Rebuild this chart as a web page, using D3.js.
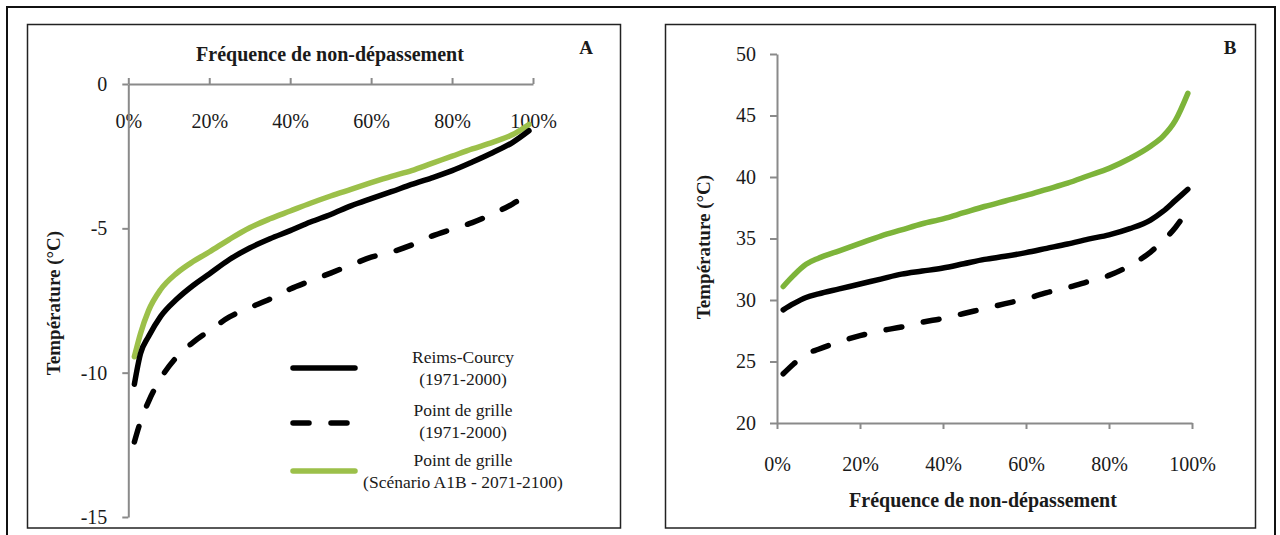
<!DOCTYPE html>
<html><head><meta charset="utf-8">
<script src="https://cdn.jsdelivr.net/npm/d3@7/dist/d3.min.js"></script>
<style>
html,body{margin:0;padding:0;background:#fff;}
svg{display:block;}
text{font-family:"Liberation Serif","Times New Roman",serif;fill:#1a1a1a;}
</style></head>
<body>
<svg id="chart" width="1280" height="535"></svg>
<script>
// ---- Data ----
const xTickLabels = ["0%","20%","40%","60%","80%","100%"];
const xTicks = [0,0.2,0.4,0.6,0.8,1];
const yTicksA = [0,-5,-10,-15];
const yTicksB = [20,25,30,35,40,45,50];
const axisTitleX = "Fréquence de non-dépassement";
const axisTitleY = "Température (°C)";
const seriesNames = ["Reims-Courcy|(1971-2000)","Point de grille|(1971-2000)","Point de grille|(Scénario A1B - 2071-2100)"];

// Panel A: minimum temperatures
const pctA   = [1.5,3,5,8,12,16,20,25,30,35,40,45,50,55,60,65,70,75,80,85,90,95,99];
const reimsA = [-10.4,-9.35,-8.75,-8.05,-7.45,-6.98,-6.58,-6.08,-5.68,-5.36,-5.08,-4.78,-4.52,-4.22,-3.97,-3.73,-3.48,-3.25,-3.0,-2.7,-2.38,-2.02,-1.62];
const gridA  = [-12.4,-11.7,-11.0,-10.2,-9.45,-8.95,-8.55,-8.07,-7.75,-7.45,-7.1,-6.82,-6.55,-6.27,-6.0,-5.82,-5.58,-5.27,-5.03,-4.8,-4.5,-4.15,-3.8];
const a1bA   = [-9.45,-8.65,-7.85,-7.12,-6.55,-6.15,-5.82,-5.38,-4.98,-4.67,-4.4,-4.13,-3.88,-3.65,-3.42,-3.2,-3.0,-2.75,-2.5,-2.25,-2.02,-1.75,-1.4];

// Panel B: maximum temperatures
const pctB   = [1.5,4,7,10,15,20,25,30,35,40,45,50,55,60,65,70,75,80,85,90,93,96,99];
const reimsB = [29.2,29.7,30.2,30.5,30.9,31.3,31.7,32.1,32.35,32.6,32.95,33.3,33.55,33.85,34.2,34.55,34.95,35.3,35.8,36.5,37.2,38.1,39.0];
const gridB  = [24.0,24.8,25.6,26.0,26.6,27.1,27.5,27.8,28.2,28.5,28.9,29.3,29.7,30.1,30.6,31.0,31.5,32.0,32.8,33.9,34.8,35.9,37.3];
const a1bB   = [31.1,32.0,32.9,33.4,34.0,34.6,35.2,35.7,36.2,36.6,37.1,37.6,38.05,38.5,39.0,39.5,40.1,40.7,41.5,42.5,43.3,44.6,46.8];

// ---- Drawing ----
const svg = d3.select("#chart");
const AXIS = "#8a8a8a";
const GREEN_A = "#9cc04a", GREEN_B = "#7db43a";
const FS = "20px";

// outer frame
svg.append("rect").attr("x",7).attr("y",7).attr("width",1268).attr("height",540)
  .attr("fill","none").attr("stroke","#111").attr("stroke-width",2);
// panel frames
svg.append("rect").attr("x",27.5).attr("y",24.5).attr("width",593).attr("height",503.5)
  .attr("fill","none").attr("stroke","#222").attr("stroke-width",1.5);
svg.append("rect").attr("x",665.5).attr("y",24.5).attr("width",590).attr("height",503.5)
  .attr("fill","none").attr("stroke","#222").attr("stroke-width",1.5);

function styleAxis(g){
  g.select(".domain").attr("stroke",AXIS).attr("stroke-width",2);
  g.selectAll(".tick line").attr("stroke",AXIS).attr("stroke-width",2);
  g.selectAll(".tick text").attr("fill","#1a1a1a").style("font-family","'Liberation Serif',serif").style("font-size",FS);
}
function mkLine(x,y){ return d3.line().x(d=>x(d[0]/100)).y(d=>y(d[1])).curve(d3.curveMonotoneX); }
function zip(a,b){ return a.map((v,i)=>[v,b[i]]); }

// ===== Panel A =====
const xA = d3.scaleLinear().domain([0,1]).range([128.3,533]);
const yA = d3.scaleLinear().domain([-15,0]).range([517,84]);
const gA = svg.append("g");
const xAxA = gA.append("g").attr("transform",`translate(0,${yA(0)})`)
  .call(d3.axisTop(xA).tickValues(xTicks).tickFormat((d,i)=>xTickLabels[i]).tickSize(6).tickSizeOuter(0));
styleAxis(xAxA);
xAxA.selectAll(".tick text").attr("y",38).attr("dy","0.32em");
const yAxA = gA.append("g").attr("transform",`translate(${xA(0)},0)`)
  .call(d3.axisLeft(yA).tickValues(yTicksA).tickFormat(d=>String(d)).tickSize(6).tickPadding(15).tickSizeOuter(0));
styleAxis(yAxA);

const lineA = mkLine(xA,yA);
gA.append("path").datum(zip(pctA,a1bA)).attr("d",lineA).attr("fill","none")
  .attr("stroke",GREEN_A).attr("stroke-width",5.5).attr("stroke-linecap","round");
gA.append("path").datum(zip(pctA,gridA)).attr("d",lineA).attr("fill","none")
  .attr("stroke","#000").attr("stroke-width",5.5).attr("stroke-linecap","round").attr("stroke-dasharray","16,22");
gA.append("path").datum(zip(pctA,reimsA)).attr("d",lineA).attr("fill","none")
  .attr("stroke","#000").attr("stroke-width",5.5).attr("stroke-linecap","round");

gA.append("text").attr("x",330).attr("y",54).attr("text-anchor","middle").attr("dominant-baseline","central")
  .style("font-weight","bold").style("font-size",FS).text(axisTitleX);
gA.append("text").attr("x",586).attr("y",47).attr("text-anchor","middle").attr("dominant-baseline","central")
  .style("font-weight","bold").style("font-size","19px").text("A");
gA.append("text").attr("transform","translate(53,303) rotate(-90)").attr("text-anchor","middle").attr("dominant-baseline","central")
  .style("font-weight","bold").style("font-size","19px").text(axisTitleY);

// legend
const legY = [368,423,471];
const legStyles = [{c:"#000",d:null},{c:"#000",d:"16,22"},{c:GREEN_A,d:null}];
const legText = [[357,379],[410,432],[460,482]];
const legLine = d3.line();
seriesNames.forEach((s,i)=>{
  const p = gA.append("path").datum([[293,legY[i]],[355,legY[i]]]).attr("d",legLine)
    .attr("stroke",legStyles[i].c).attr("stroke-width",5.5).attr("stroke-linecap","round").attr("fill","none");
  if(legStyles[i].d) p.attr("stroke-dasharray",legStyles[i].d);
  s.split("|").forEach((t,j)=>{
    gA.append("text").attr("x",463).attr("y",legText[i][j]).attr("text-anchor","middle").attr("dominant-baseline","central")
      .style("font-size","17.5px").text(t);
  });
});

// ===== Panel B =====
const xB = d3.scaleLinear().domain([0,1]).range([777,1192]);
const yB = d3.scaleLinear().domain([20,50]).range([423,54]);
const gB = svg.append("g");
const xAxB = gB.append("g").attr("transform",`translate(0,${yB(20)})`)
  .call(d3.axisBottom(xB).tickValues(xTicks).tickFormat((d,i)=>xTickLabels[i]).tickSize(6).tickPadding(30).tickSizeOuter(0));
styleAxis(xAxB);
xAxB.selectAll(".tick text").attr("y",42).attr("dy","0.32em");
const yAxB = gB.append("g").attr("transform",`translate(${xB(0)},0)`)
  .call(d3.axisLeft(yB).tickValues(yTicksB).tickSize(7).tickPadding(14).tickSizeOuter(0));
styleAxis(yAxB);

const lineB = mkLine(xB,yB);
gB.append("path").datum(zip(pctB,gridB)).attr("d",lineB).attr("fill","none")
  .attr("stroke","#000").attr("stroke-width",5.5).attr("stroke-linecap","round").attr("stroke-dasharray","16,22");
gB.append("path").datum(zip(pctB,reimsB)).attr("d",lineB).attr("fill","none")
  .attr("stroke","#000").attr("stroke-width",5.5).attr("stroke-linecap","round");
gB.append("path").datum(zip(pctB,a1bB)).attr("d",lineB).attr("fill","none")
  .attr("stroke",GREEN_B).attr("stroke-width",5.5).attr("stroke-linecap","round");

gB.append("text").attr("x",983).attr("y",500).attr("text-anchor","middle").attr("dominant-baseline","central")
  .style("font-weight","bold").style("font-size",FS).text(axisTitleX);
gB.append("text").attr("x",1230).attr("y",47).attr("text-anchor","middle").attr("dominant-baseline","central")
  .style("font-weight","bold").style("font-size","19px").text("B");
gB.append("text").attr("transform","translate(703,247) rotate(-90)").attr("text-anchor","middle").attr("dominant-baseline","central")
  .style("font-weight","bold").style("font-size","19px").text(axisTitleY);
</script>
</body></html>
